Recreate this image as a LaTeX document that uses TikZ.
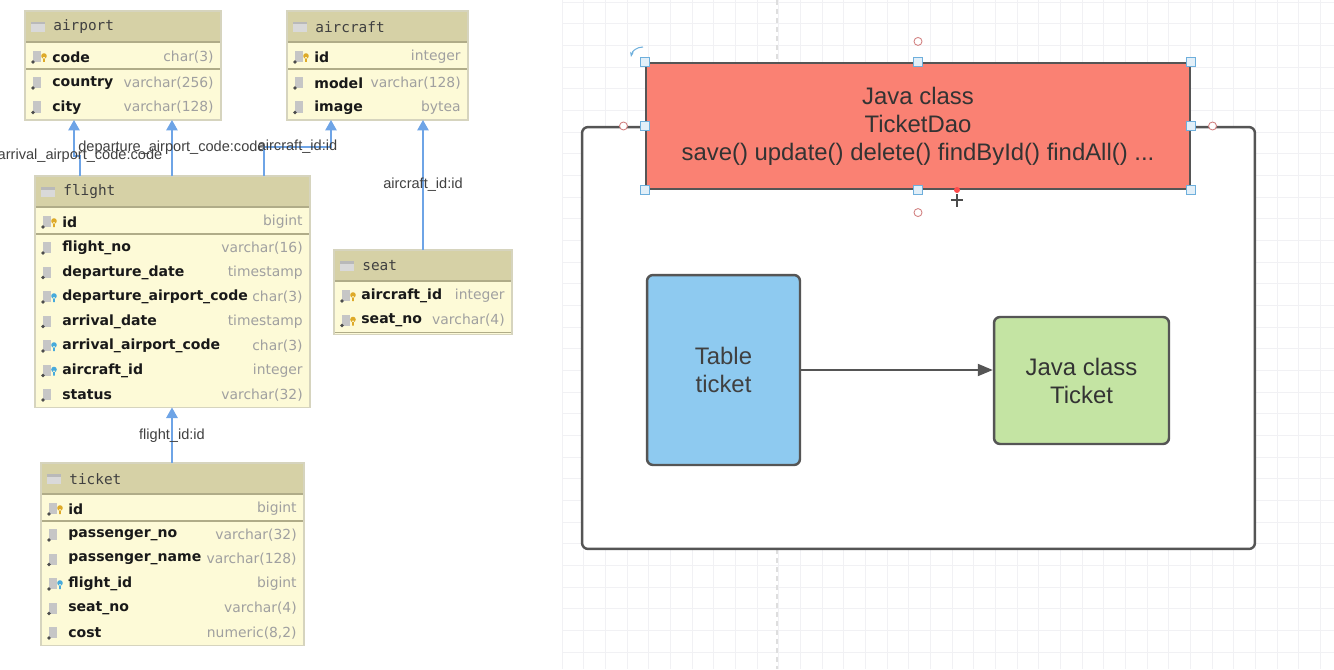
\documentclass[tikz,border=0pt]{standalone}
\usepackage{fontspec}
\setmainfont{Liberation Sans}
\newfontfamily\tblfont{DejaVu Sans}
\newfontfamily\tblmono{DejaVu Sans Mono}
\usetikzlibrary{positioning,arrows.meta,calc}
\definecolor{dbhead}{RGB}{214,209,166}
\definecolor{dbbody}{RGB}{253,250,215}
\definecolor{dbframe}{RGB}{214,212,190}
\definecolor{dbsep}{RGB}{176,172,136}
\definecolor{dbtype}{RGB}{160,160,160}
\definecolor{fkline}{RGB}{110,164,230}
\definecolor{keyk}{RGB}{222,170,40}
\definecolor{keyf}{RGB}{70,170,220}
\colorlet{keyc}{dbbody}
\definecolor{gridgray}{RGB}{241,241,244}
\definecolor{daored}{RGB}{250,129,115}
\definecolor{tblblue}{RGB}{142,202,240}
\definecolor{clsgreen}{RGB}{196,228,163}
\definecolor{dkline}{RGB}{85,85,85}
\definecolor{selblue}{RGB}{110,175,220}
\definecolor{selred}{RGB}{210,130,130}
\tikzset{
  tblbody/.style={fill=dbbody, inner sep=0pt, outer sep=0pt},
  tblframe/.style={draw=dbframe, line width=0.7pt},
  tblsep/.style={draw=dbsep, line width=0.6pt},
  tbltitle/.style={inner sep=0pt, text=black!75, font=\tblmono\fontsize{8.2}{9}\selectfont},
  colname/.style={inner sep=0pt, text=black!90, font=\tblfont\bfseries\fontsize{8}{9}\selectfont},
  coltype/.style={inner sep=0pt, text=dbtype, font=\tblfont\fontsize{7.9}{9}\selectfont},
  fkarrow/.style={draw=fkline, line width=0.8pt, -{Triangle[length=2.1mm,width=2.3mm]}},
  fklabel/.style={inner sep=1pt, text=black!75, font=\fontsize{8.3}{9}\selectfont},
  gridln/.style={draw=gridgray, line width=0.5pt},
  guide/.style={draw=black!13, line width=0.6pt, dash pattern=on 0.1cm off 0.08cm},
  layerbox/.style={draw=dkline, fill=white, rounded corners=0.12cm, line width=1.4pt, inner sep=0pt},
  daobox/.style={draw=dkline, fill=daored, line width=1.3pt, align=center, text=black!80, font=\fontsize{13.6}{15.9}\selectfont},
  tblbox/.style={draw=dkline, fill=tblblue, rounded corners=0.12cm, line width=1.4pt, align=center, text=black!75, font=\fontsize{13.6}{15.9}\selectfont},
  clsbox/.style={draw=dkline, fill=clsgreen, rounded corners=0.12cm, line width=1.4pt, align=center, text=black!80, font=\fontsize{13.6}{15.9}\selectfont},
  maparrow/.style={draw=dkline, line width=1.1pt, -{Triangle[length=3mm,width=2.4mm]}},
  sizehandle/.style={draw=selblue, fill=white!80!selblue, minimum size=0.17cm, inner sep=0pt, line width=0.6pt},
  ctlpoint/.style={circle, draw=selred, fill=white, minimum size=0.16cm, inner sep=0pt, line width=0.5pt}
}
% #1 name, #2 x, #3 y, #4 width, #5 rows, #6 key rows, #7 title, #8 columns
\newcommand{\dbtable}[8]{%
  \node[tblbody, anchor=north west, minimum width=#4*0.02cm, minimum height={(35.5+24.5*#5)*0.02cm}] (#1) at (#2,#3) {};
  \fill[dbhead] (#1.north west) rectangle ([yshift=-0.62cm]#1.north east);
  \draw[tblsep] ([yshift=-0.62cm]#1.north west) -- ([yshift=-0.62cm]#1.north east);
  \fill[gray!30] (#2+6,#3+11) rectangle (#2+20,#3+21);
  \fill[gray!55] (#2+6,#3+11) rectangle (#2+20,#3+13.5);
  \node[tbltitle, anchor=west] (#1-title) at (#2+28,#3+16) {#7};
  \pgfmathsetmacro{\sepy}{#3+58+24.5*(#6-1)}
  \draw[tblsep] (#2,\sepy) -- (#2+#4,\sepy);
  \foreach \ic/\cn/\ct [count=\i] in {#8}{
    \pgfmathsetmacro{\rowy}{#3+46+24.5*(\i-1)+1.5*(\i>#6)}
    \fill[gray!45] (#2+8,\rowy-6) rectangle (#2+16,\rowy+5);
    \fill[black!70] (#2+8,\rowy+5) circle (1.8);
    \fill[fill=key\ic] (#2+19,\rowy-1) circle (2.8) (#2+18.2,\rowy) rectangle (#2+19.8,\rowy+5);
    \node[colname, anchor=west] (#1-c\i) at (#2+27,\rowy) {\cn};
    \node[coltype, anchor=east] (#1-t\i) at (#2+#4-7,\rowy) {\ct};
  }
  \draw[tblframe] (#1.north west) rectangle (#1.south east);
}

\begin{document}
\begin{tikzpicture}[x=0.02cm, y=-0.02cm]
  \useasboundingbox (0,0) rectangle (1334,669);
  % canvas
  \foreach \g in {0,...,35}{\draw[gridln] (562+21.67*\g,0) -- ++(0,669);}
  \foreach \g in {0,...,30}{\draw[gridln] (562,2+21.67*\g) -- (1334,2+21.67*\g);}
  \draw[guide] (777,0) -- (777,669);

  % schema
  \dbtable{airport}{25}{11}{196}{3}{1}{airport}{k/code/char(3), c/country/varchar(256), c/city/varchar(128)}
  \dbtable{aircraft}{287}{11}{181}{3}{1}{aircraft}{k/id/integer, c/model/varchar(128), c/image/bytea}
  \dbtable{flight}{35}{176}{275}{8}{1}{flight}{k/id/bigint, c/flight\_no/varchar(16), c/departure\_date/timestamp, f/departure\_airport\_code/char(3), c/arrival\_date/timestamp, f/arrival\_airport\_code/char(3), f/aircraft\_id/integer, c/status/varchar(32)}
  \dbtable{seat}{334}{250}{178}{2}{2}{seat}{k/aircraft\_id/integer, k/seat\_no/varchar(4)}
  \dbtable{ticket}{41}{463}{263}{6}{1}{ticket}{k/id/bigint, c/passenger\_no/varchar(32), c/passenger\_name/varchar(128), f/flight\_id/bigint, c/seat\_no/varchar(4), c/cost/{numeric(8,2)}}

  \coordinate (dep) at ([xshift=2.74cm]flight.north west);
  \coordinate (st) at ([xshift=1.78cm]seat.north west);
  \coordinate (tk) at ([xshift=2.62cm]ticket.north west);
  \draw[fkarrow] ([xshift=0.9cm]flight.north west) -- ++(0,-20) node[fklabel]{arrival\_airport\_code:code} -| ([xshift=0.98cm]airport.south west);
  \draw[fkarrow] (dep) -- (dep |- airport.south) node[fklabel, midway]{departure\_airport\_code:code};
  \draw[fkarrow] ([xshift=4.58cm]flight.north west) -- ++(0,-29) -| node[fklabel, pos=0.25]{aircraft\_id:id} ([xshift=0.88cm]aircraft.south west);
  \draw[fkarrow] (st) -- (st |- aircraft.south) node[fklabel, midway]{aircraft\_id:id};
  \draw[fkarrow] (tk) -- (tk |- flight.south) node[fklabel, midway]{flight\_id:id};

  % mapping
  \node[layerbox, minimum width=13.46cm, minimum height=8.44cm] (layer) at (918.5,338) {};
  \node[daobox, minimum width=10.88cm, minimum height=2.52cm] (dao) at (918,126) {Java class\\TicketDao\\save() update() delete() findById() findAll() ...};
  \node[tblbox, minimum width=3.06cm, minimum height=3.8cm] (tbl) at (723.5,370) {Table\\ticket};
  \node[clsbox, minimum width=3.5cm, minimum height=2.54cm] (cls) at (1081.5,380.5) {Java class\\Ticket};
  \draw[maparrow] (tbl.east) -- (tbl.east -| cls.west);

  % selection handles
  \foreach \a in {north west,north,north east,west,east,south west,south,south east}{\node[sizehandle] (h-\a) at (dao.\a) {};}
  \node[ctlpoint, above=0.32cm of dao.north] (c-top) {};
  \node[ctlpoint, below=0.36cm of dao.south] (c-bot) {};
  \node[ctlpoint, left=0.34cm of dao.west] (c-left) {};
  \node[ctlpoint, right=0.34cm of dao.east] (c-right) {};
  \draw[selblue, line width=0.6pt, -{Stealth[length=1mm]}] (643,47) to[bend right=40] (631,57);
  \fill[red!70] (957,190) circle (3);
  \draw[black!70, line width=0.6pt] (957,194) -- (957,207) (951,200) -- (963,200);
\end{tikzpicture}
\end{document}
